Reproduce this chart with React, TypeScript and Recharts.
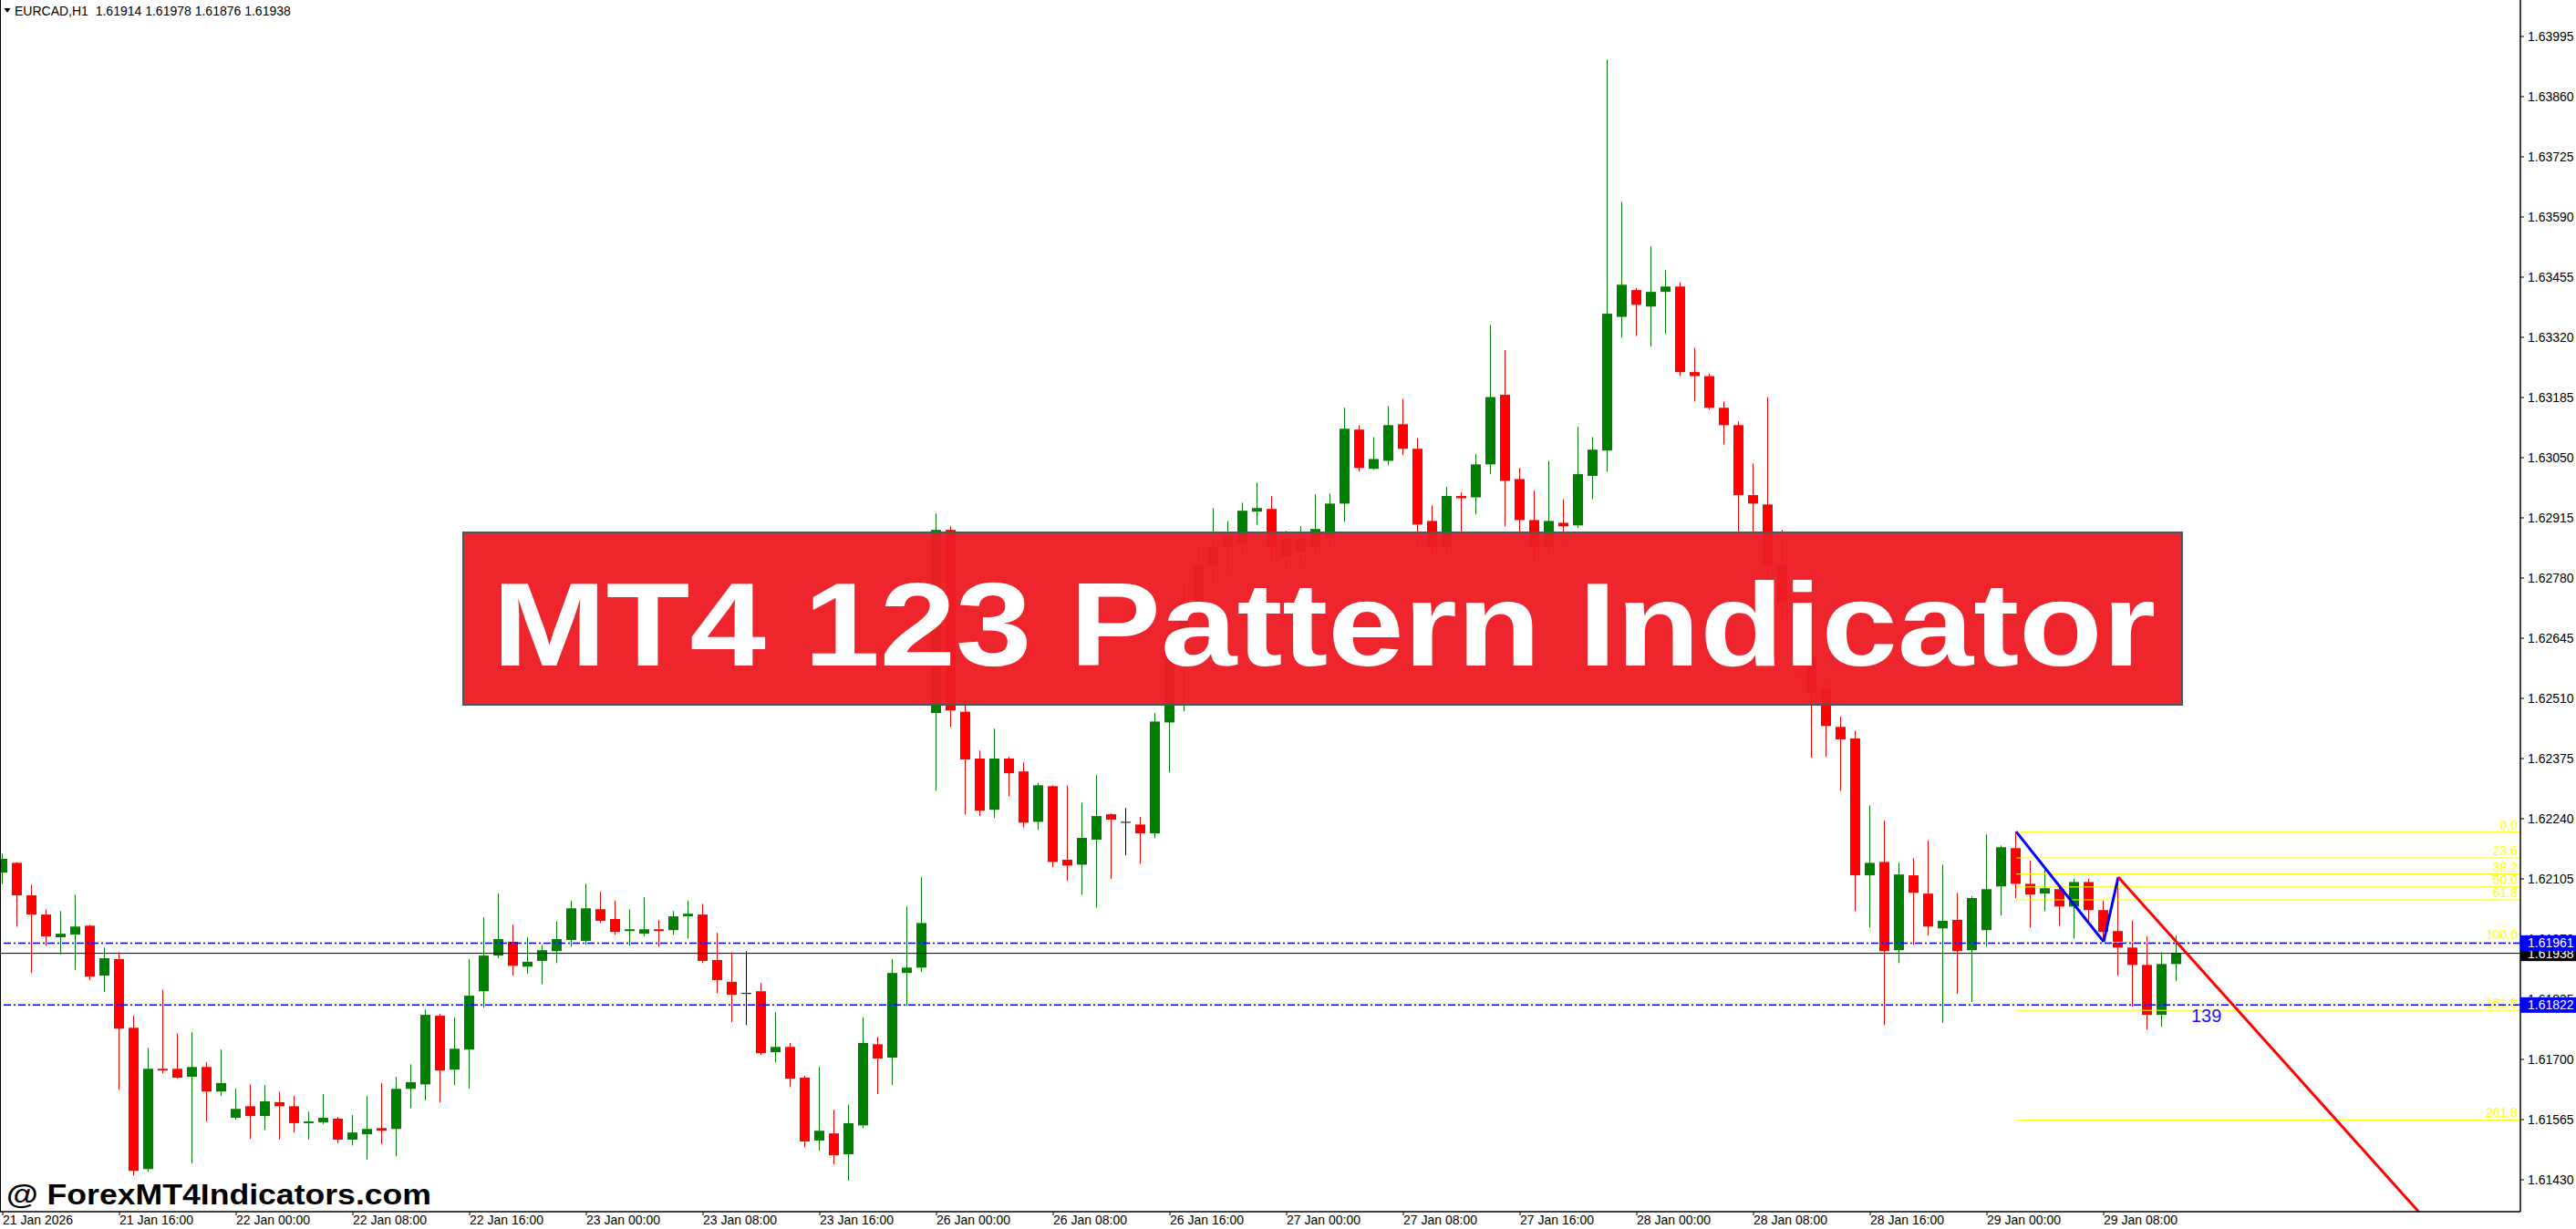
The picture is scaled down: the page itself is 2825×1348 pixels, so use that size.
import React from 'react';
import { ComposedChart, Bar, XAxis, YAxis, ReferenceLine, ReferenceDot } from 'recharts';

// EURCAD H1, bar 0 = 21 Jan 08:00
const symbol = 'EURCAD,H1';

const opens = [
  1.62119, 1.62141, 1.62068, 1.62025, 1.61974, 1.61980, 1.62000, 1.61888, 1.61925, 1.61771,
  1.61454, 1.61679, 1.61679, 1.61661, 1.61683, 1.61628, 1.61569, 1.61595, 1.61573, 1.61604,
  1.61595, 1.61557, 1.61559, 1.61567, 1.61520, 1.61532, 1.61546, 1.61544, 1.61634, 1.61644,
  1.61798, 1.61677, 1.61722, 1.61853, 1.61933, 1.61964, 1.61908, 1.61921, 1.61943, 1.61968,
  1.61966, 1.62037, 1.62015, 1.61988, 1.61982, 1.61992, 1.61990, 1.62021, 1.62025, 1.61923,
  1.61874, 1.61849, 1.61853, 1.61716, 1.61728, 1.61659, 1.61518, 1.61534, 1.61487, 1.61552,
  1.61734, 1.61704, 1.61894, 1.61906, 1.62477, 1.62888, 1.62480, 1.62375, 1.62260, 1.62375,
  1.62346, 1.62233, 1.62313, 1.62148, 1.62137, 1.62193, 1.62250, 1.62233, 1.62227, 1.62207,
  1.62456, 1.62645, 1.62726, 1.62808, 1.62849, 1.62859, 1.62929, 1.62935, 1.62829, 1.62839,
  1.62849, 1.62869, 1.62947, 1.63113, 1.63025, 1.63043, 1.63125, 1.63070, 1.62908, 1.62849,
  1.62964, 1.62961, 1.63035, 1.63191, 1.63002, 1.62910, 1.62849, 1.62904, 1.62898, 1.63009,
  1.63066, 1.63366, 1.63426, 1.63389, 1.63422, 1.63434, 1.63242, 1.63233, 1.63162, 1.63123,
  1.62966, 1.62945, 1.62808, 1.62726, 1.62604, 1.62532, 1.62446, 1.62420, 1.62113, 1.62143,
  1.61945, 1.62113, 1.62072, 1.61994, 1.62013, 1.61945, 1.61990, 1.62088, 1.62174, 1.62094,
  1.62072, 1.62082, 1.62043, 1.62098, 1.62035, 1.61988, 1.61951, 1.61912, 1.61800, 1.61914,
];

const highs = [
  1.62162, 1.62143, 1.62092, 1.62037, 1.62033, 1.62070, 1.62002, 1.61951, 1.61941, 1.61798,
  1.61726, 1.61857, 1.61759, 1.61761, 1.61694, 1.61722, 1.61634, 1.61644, 1.61642, 1.61628,
  1.61618, 1.61583, 1.61622, 1.61571, 1.61575, 1.61618, 1.61647, 1.61661, 1.61689, 1.61812,
  1.61802, 1.61794, 1.61925, 1.62019, 1.62072, 1.62002, 1.61974, 1.61957, 1.62009, 1.62056,
  1.62094, 1.62076, 1.62056, 1.62037, 1.62064, 1.62013, 1.62033, 1.62056, 1.62049, 1.61984,
  1.61941, 1.61943, 1.61871, 1.61806, 1.61737, 1.61663, 1.61683, 1.61587, 1.61599, 1.61794,
  1.61751, 1.61925, 1.62043, 1.62109, 1.62925, 1.62896, 1.62501, 1.62393, 1.62442, 1.62379,
  1.62366, 1.62321, 1.62315, 1.62315, 1.62276, 1.62338, 1.62252, 1.62264, 1.62244, 1.62477,
  1.62665, 1.62767, 1.62849, 1.62937, 1.62908, 1.62949, 1.62994, 1.62964, 1.62886, 1.62896,
  1.62968, 1.62970, 1.63162, 1.63123, 1.63096, 1.63166, 1.63182, 1.63094, 1.62943, 1.62984,
  1.62972, 1.63058, 1.63348, 1.63291, 1.63027, 1.62976, 1.63043, 1.62957, 1.63119, 1.63096,
  1.63943, 1.63624, 1.63430, 1.63524, 1.63471, 1.63444, 1.63297, 1.63238, 1.63176, 1.63131,
  1.63037, 1.63186, 1.62888, 1.62747, 1.62645, 1.62552, 1.62469, 1.62438, 1.62270, 1.62236,
  1.62141, 1.62152, 1.62191, 1.62137, 1.62074, 1.62066, 1.62205, 1.62180, 1.62211, 1.62146,
  1.62131, 1.62088, 1.62105, 1.62105, 1.62056, 1.62109, 1.62011, 1.61976, 1.61941, 1.61978,
];

const lows = [
  1.62094, 1.61998, 1.61894, 1.61955, 1.61935, 1.61900, 1.61878, 1.61851, 1.61632, 1.61440,
  1.61448, 1.61669, 1.61657, 1.61467, 1.61561, 1.61618, 1.61565, 1.61522, 1.61542, 1.61520,
  1.61536, 1.61520, 1.61555, 1.61512, 1.61507, 1.61475, 1.61510, 1.61483, 1.61591, 1.61608,
  1.61604, 1.61642, 1.61634, 1.61816, 1.61927, 1.61888, 1.61892, 1.61869, 1.61916, 1.61953,
  1.61957, 1.62006, 1.61980, 1.61955, 1.61976, 1.61953, 1.61980, 1.61972, 1.61916, 1.61849,
  1.61784, 1.61777, 1.61710, 1.61694, 1.61638, 1.61503, 1.61495, 1.61465, 1.61428, 1.61546,
  1.61622, 1.61642, 1.61820, 1.61896, 1.62303, 1.62446, 1.62250, 1.62246, 1.62242, 1.62291,
  1.62221, 1.62215, 1.62131, 1.62101, 1.62070, 1.62041, 1.62105, 1.62158, 1.62139, 1.62197,
  1.62344, 1.62481, 1.62685, 1.62767, 1.62788, 1.62829, 1.62900, 1.62818, 1.62798, 1.62808,
  1.62829, 1.62849, 1.62906, 1.63019, 1.63023, 1.63033, 1.63056, 1.62849, 1.62829, 1.62829,
  1.62869, 1.62923, 1.63013, 1.62896, 1.62869, 1.62818, 1.62829, 1.62859, 1.62892, 1.62957,
  1.63019, 1.63319, 1.63323, 1.63299, 1.63328, 1.63233, 1.63176, 1.63158, 1.63080, 1.62869,
  1.62884, 1.62767, 1.62685, 1.62563, 1.62377, 1.62379, 1.62303, 1.62033, 1.61996, 1.61777,
  1.61916, 1.61957, 1.61978, 1.61782, 1.61847, 1.61829, 1.61953, 1.62023, 1.62062, 1.61996,
  1.62033, 1.62000, 1.61972, 1.62011, 1.61964, 1.61888, 1.61818, 1.61767, 1.61773, 1.61876,
];

const closes = [
  1.62150, 1.62068, 1.62025, 1.61976, 1.61982, 1.61998, 1.61886, 1.61927, 1.61769, 1.61450,
  1.61679, 1.61675, 1.61659, 1.61683, 1.61628, 1.61647, 1.61589, 1.61573, 1.61606, 1.61595,
  1.61557, 1.61561, 1.61569, 1.61520, 1.61536, 1.61544, 1.61540, 1.61634, 1.61649, 1.61800,
  1.61675, 1.61724, 1.61843, 1.61933, 1.61970, 1.61910, 1.61919, 1.61945, 1.61970, 1.62039,
  1.62039, 1.62011, 1.61986, 1.61992, 1.61992, 1.61988, 1.62021, 1.62027, 1.61921, 1.61878,
  1.61845, 1.61849, 1.61714, 1.61728, 1.61657, 1.61516, 1.61540, 1.61485, 1.61557, 1.61737,
  1.61702, 1.61894, 1.61906, 1.62006, 1.62888, 1.62483, 1.62373, 1.62258, 1.62375, 1.62342,
  1.62231, 1.62315, 1.62143, 1.62135, 1.62197, 1.62246, 1.62238, 1.62233, 1.62207, 1.62458,
  1.62645, 1.62726, 1.62808, 1.62849, 1.62874, 1.62931, 1.62937, 1.62849, 1.62869, 1.62869,
  1.62890, 1.62947, 1.63115, 1.63027, 1.63047, 1.63123, 1.63070, 1.62900, 1.62849, 1.62964,
  1.62959, 1.63035, 1.63186, 1.62998, 1.62910, 1.62849, 1.62908, 1.62896, 1.63013, 1.63068,
  1.63373, 1.63438, 1.63393, 1.63422, 1.63434, 1.63242, 1.63233, 1.63162, 1.63123, 1.62966,
  1.62947, 1.62808, 1.62726, 1.62604, 1.62522, 1.62448, 1.62418, 1.62113, 1.62141, 1.61943,
  1.62115, 1.62074, 1.61998, 1.62011, 1.61943, 1.62062, 1.62082, 1.62176, 1.62094, 1.62070,
  1.62084, 1.62043, 1.62098, 1.62035, 1.61986, 1.61951, 1.61912, 1.61800, 1.61914, 1.61938,
];

const timeTickBars = [0, 8, 16, 24, 32, 40, 48, 56, 64, 72, 80, 88, 96, 104, 112, 120, 128, 136, 144];
const timeLabels = [
  '21 Jan 2026', '21 Jan 16:00', '22 Jan 00:00', '22 Jan 08:00', '22 Jan 16:00', '23 Jan 00:00',
  '23 Jan 08:00', '23 Jan 16:00', '26 Jan 00:00', '26 Jan 08:00', '26 Jan 16:00', '27 Jan 00:00',
  '27 Jan 08:00', '27 Jan 16:00', '28 Jan 00:00', '28 Jan 08:00', '28 Jan 16:00', '29 Jan 00:00',
  '29 Jan 08:00',
];

const priceTicks = [
  1.63995, 1.6386, 1.63725, 1.6359, 1.63455, 1.6332, 1.63185, 1.6305, 1.62915, 1.6278,
  1.62645, 1.6251, 1.62375, 1.6224, 1.62105, 1.6197, 1.61835, 1.617, 1.61565, 1.6143,
];

// 123 pattern: fibo levels drawn from point 1 (bar 138)
const fibNames = ['0.0', '23.6', '38.2', '50.0', '61.8', '100.0', '161.8', '261.8'];
const fibPrices = [1.6221, 1.62152, 1.62116, 1.62087, 1.62058, 1.61963, 1.6181, 1.61564];
const fibStartBar = 138;

const patternBars = [138, 144, 145];
const patternPrices = [1.62211, 1.61964, 1.62109];
const targetBars = [145, 165.6];
const targetPrices = [1.62109, 1.61358];
const targetText = '139';
const targetTextBar = 150;
const targetTextPrice = 1.61784;

const bidPrice = 1.61938;
const levelPrices = [1.61961, 1.61822];

// price tags on the axis: bid first, the blue levels drawn over it
const tagPrices = [bidPrice, ...levelPrices];
const tagColors = ['#000000', '#0000ff', '#0000ff'];

const candles = opens.map((o, i) => ({ bar: i, o, h: highs[i], l: lows[i], c: closes[i] }));
const last = candles[candles.length - 1];

const Candle = (props: any) => {
  const { x, y, width, height, payload } = props;
  const { o, h, l, c } = payload;
  const top = Math.min(y, y + height);
  const span = Math.abs(height);
  const py = (p: number) => top + ((h - p) / (h - l)) * span;
  const color = c > o ? '#008000' : c < o ? '#ff0000' : '#000000';
  const cx = x + width / 2;
  const bodyTop = py(Math.max(o, c));
  const bodyH = Math.max(1, py(Math.min(o, c)) - bodyTop);
  return (
    <g>
      <rect x={cx - 0.5} y={top} width={1} height={span} fill={color} />
      <rect x={x} y={bodyTop} width={width} height={bodyH} fill={color} />
    </g>
  );
};

const TimeTick = ({ x, y, payload }: any) => (
  <text x={x} y={y + 10} textAnchor="start" fontSize={14} fill="#000">
    {timeLabels[timeTickBars.indexOf(payload.value)]}
  </text>
);

const PriceTick = ({ x, y, payload }: any) => {
  const v = payload.value;
  const t = tagPrices.indexOf(v);
  if (t >= 0) {
    return (
      <g>
        <rect x={x - 8} y={y - 8.5} width={62} height={17} fill={tagColors[t]} />
        <text x={x} y={y + 5} fontSize={14} fill="#fff">{v.toFixed(5)}</text>
      </g>
    );
  }
  return <text x={x} y={y + 5} fontSize={14} fill="#000">{v.toFixed(5)}</text>;
};

const FibLabel = ({ viewBox, text }: any) => {
  if (!viewBox) return null;
  return (
    <text x={viewBox.x + viewBox.width - 3} y={viewBox.y - 3} textAnchor="end" fontSize={14} fill="#ffff00">
      {text}
    </text>
  );
};

const TargetLabel = ({ viewBox }: any) => {
  if (!viewBox) return null;
  return (
    <text x={viewBox.x} y={viewBox.y} fontSize={20} fill="#1414ff">{targetText}</text>
  );
};

const App: React.FC = () => {
  return (
    <div style={{ position: 'absolute', left: 0, top: 0, width: 2825, height: 1348, background: '#fff', fontFamily: "'Liberation Sans', Arial, sans-serif" }}>
      <ComposedChart width={2825} height={1348} data={candles} margin={{ top: 0, right: 0, bottom: 0, left: 0 }}>
        <XAxis
          dataKey="bar"
          type="number"
          domain={[-0.1875, 172.5625]}
          ticks={timeTickBars}
          interval={0}
          allowDataOverflow
          height={19}
          tickSize={4}
          tickMargin={0}
          axisLine={{ stroke: '#000', strokeWidth: 1.5 }}
          tickLine={{ stroke: '#000' }}
          tick={<TimeTick />}
        />
        <YAxis
          orientation="right"
          type="number"
          domain={[1.613584, 1.640768]}
          ticks={[...priceTicks, ...tagPrices]}
          interval={0}
          allowDataOverflow
          width={61}
          tickSize={4}
          tickMargin={4}
          axisLine={{ stroke: '#000', strokeWidth: 1.5 }}
          tickLine={{ stroke: '#000' }}
          tick={<PriceTick />}
        />
        <Bar dataKey={(d: any) => [d.l, d.h]} barSize={11} shape={Candle} isAnimationActive={false} />

        {fibPrices.map((p, i) => (
          <ReferenceLine
            key={`fib-${i}`}
            segment={[{ x: fibStartBar, y: p }, { x: 172.5625, y: p }]}
            stroke="#ffff00"
            strokeWidth={1}
            label={<FibLabel text={fibNames[i]} />}
          />
        ))}

        <ReferenceLine y={bidPrice} stroke="#000" strokeWidth={1} />
        {levelPrices.map((p, i) => (
          <ReferenceLine key={`lvl-${i}`} y={p} stroke="#0000ff" strokeWidth={1.5} strokeDasharray="8 3 2 3" />
        ))}

        {patternBars.slice(1).map((b, i) => (
          <ReferenceLine
            key={`zz-${i}`}
            segment={[{ x: patternBars[i], y: patternPrices[i] }, { x: b, y: patternPrices[i + 1] }]}
            stroke="#0000ff"
            strokeWidth={3}
          />
        ))}
        <ReferenceLine
          segment={[{ x: targetBars[0], y: targetPrices[0] }, { x: targetBars[1], y: targetPrices[1] }]}
          stroke="#ff0000"
          strokeWidth={3}
          ifOverflow="hidden"
        />
        <ReferenceDot x={targetTextBar} y={targetTextPrice} r={0} fill="none" stroke="none" label={<TargetLabel />} />
      </ComposedChart>

      <svg width={2825} height={1348} style={{ position: 'absolute', left: 0, top: 0, pointerEvents: 'none' }}>
        <line x1={0.5} y1={0} x2={0.5} y2={1329} stroke="#000" strokeWidth={1} />
        <polygon points="4.5,9 11.5,9 8,14" fill="#000" />
        <text x={16} y={17} fontSize={14} fill="#000" style={{ whiteSpace: 'pre' }}>
          {`${symbol}  ${last.o.toFixed(5)} ${last.h.toFixed(5)} ${last.l.toFixed(5)} ${last.c.toFixed(5)}`}
        </text>

        {/* title banner */}
        <rect x={508} y={584} width={1885} height={189} fill="#ed1c24" fillOpacity={0.96} stroke="#555" strokeWidth={2} />
        <text x={540} y={730} fontSize={129} fontWeight="bold" fill="#fff" textLength={1824} lengthAdjust="spacingAndGlyphs">
          MT4 123 Pattern Indicator
        </text>

        <text x={7} y={1321} fontSize={31} fontWeight="bold" fill="#000" textLength={466} lengthAdjust="spacingAndGlyphs">
          @ ForexMT4Indicators.com
        </text>
      </svg>
    </div>
  );
};

export default App;
